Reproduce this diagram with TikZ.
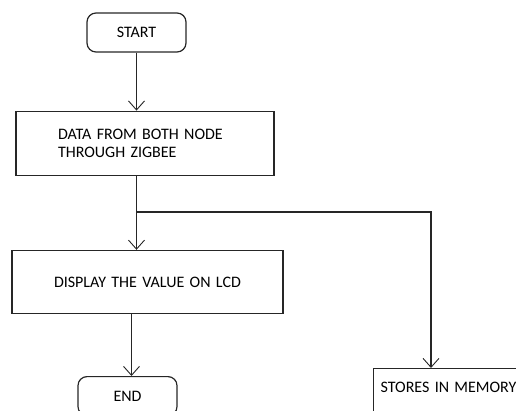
\documentclass[tikz,border=0pt]{standalone}
\usepackage{fontspec}
\setmainfont{Carlito}
\usetikzlibrary{arrows.meta,positioning}
\definecolor{cline}{HTML}{262626}

\begin{document}
\begin{tikzpicture}[
  x=1pt, y=1pt,
  font=\fontsize{16}{18}\selectfont,
  term/.style={rectangle, rounded corners=9pt, draw=cline, line width=1.2pt,
               minimum width=99pt, minimum height=39pt, inner sep=0pt},
  proc/.style={rectangle, draw=cline, line width=1.2pt, align=left,
               inner ysep=0pt},
  arr/.style={-{Straight Barb[length=9pt, width=16pt, line width=0.9pt]},
              line width=1.2pt, draw=cline}
]
\useasboundingbox (0,0) rectangle (516,410);
\clip (0,0) rectangle (516,410);

% Start / data
\node[term] (start) at (136.5,377.5) {START};
\node[proc, below=58pt of start, xshift=8.5pt, inner xsep=42pt,
      text width=174pt, minimum height=64pt] (data)
   {DATA FROM BOTH NODE\\THROUGH ZIGBEE};

% Display and end
\node[proc, below=74pt of data, xshift=2.5pt, inner xsep=42pt,
      text width=187pt, minimum height=63pt] (lcd)
   {DISPLAY THE VALUE ON LCD};
\node[term, below=62pt of lcd, xshift=-20pt] (end) {END};

% Memory branch
\node[proc, anchor=north west, inner xsep=7pt, text width=190pt,
      text height=24pt, text depth=30pt] (mem) at (373,42) {STORES IN MEMORY};
\coordinate (fork) at (start.south |- 0,198);

% Arrows
\draw[arr] (start.south) -- (start.south |- data.north);
\draw[arr] (start.south |- data.south) -- (start.south |- lcd.north);
\draw[arr] ([xshift=4pt]end.north |- lcd.south) -- ([xshift=4pt]end.north);
\draw[arr] (fork) -| ([xshift=58pt]mem.north west);

\end{tikzpicture}
\end{document}
